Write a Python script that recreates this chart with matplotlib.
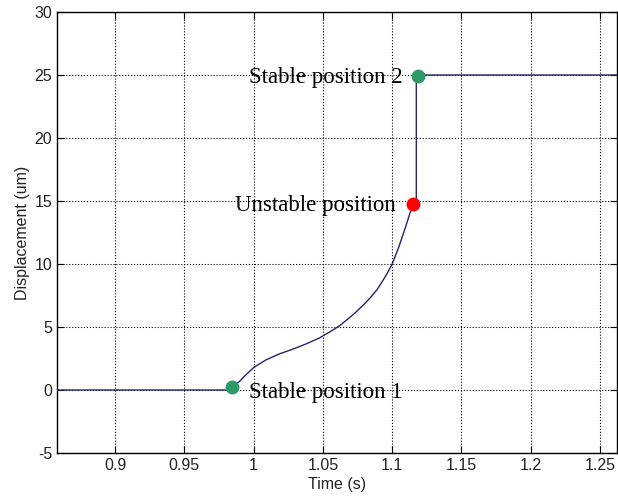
import matplotlib
matplotlib.use("Agg")
import matplotlib.pyplot as plt

plt.rcParams["axes.unicode_minus"] = False

# curve
time_s = [0.858, 0.983, 0.9855, 0.9896, 0.9942, 1.0002, 1.0087, 1.0184,
          1.0280, 1.0377, 1.0473, 1.0555, 1.0620, 1.0672, 1.0730, 1.0792,
          1.0840, 1.0889, 1.0925, 1.0961, 1.0998, 1.1046, 1.1094, 1.1130,
          1.1150, 1.1165, 1.1174, 1.1174, 1.262]
disp_um = [0.0, 0.0, 0.35, 0.66, 1.19, 1.80, 2.38, 2.86,
           3.23, 3.65, 4.12, 4.65, 5.10, 5.56, 6.10, 6.75,
           7.30, 7.94, 8.55, 9.20, 9.95, 11.3, 12.85, 14.1,
           14.6, 14.9, 15.2, 25.0, 25.0]

# marked positions
pt_names = ["Stable position 1", "Unstable position", "Stable position 2"]
pt_time = [0.984, 1.1148, 1.1186]
pt_disp = [0.25, 14.8, 24.9]
pt_colors = ["#2e9a68", "#ff0000", "#2e9a68"]

xticks = [0.9, 0.95, 1.0, 1.05, 1.1, 1.15, 1.2, 1.25]
xtick_labels = ["0.9", "0.95", "1", "1.05", "1.1", "1.15", "1.2", "1.25"]
yticks = [-5, 0, 5, 10, 15, 20, 25, 30]

fig = plt.figure(figsize=(6.18, 5.03), dpi=100)
ax = fig.add_axes([57 / 618, 50 / 503, 560 / 618, 441 / 503])

ax.plot(time_s, disp_um, color="#23236e", linewidth=1.0, zorder=3)

for t, d, c in zip(pt_time, pt_disp, pt_colors):
    ax.plot(t, d, "o", color=c, markersize=10, markeredgewidth=0, zorder=4)

serif = dict(family="Liberation Serif", fontsize=16.5, color="black")
ax.annotate(pt_names[0], (pt_time[0], pt_disp[0]), xytext=(17, -6),
            textcoords="offset pixels", ha="left", va="center", **serif)
ax.annotate(pt_names[1], (pt_time[1], pt_disp[1]), xytext=(-17, -2),
            textcoords="offset pixels", ha="right", va="center", **serif)
ax.annotate(pt_names[2], (pt_time[2], pt_disp[2]), xytext=(-15, -1),
            textcoords="offset pixels", ha="right", va="center", **serif)

ax.set_xlim(0.858, 1.2623)
ax.set_ylim(-5, 30)
ax.set_xticks(xticks)
ax.set_xticklabels(xtick_labels)
ax.set_yticks(yticks)

ax.grid(True, color="black", linestyle=":", linewidth=0.8)
ax.tick_params(direction="in", length=5, top=True, right=True,
               labelsize=11.5, labelcolor="#222222")
for lab in ax.get_xticklabels() + ax.get_yticklabels():
    lab.set_family("Liberation Sans")
for s in ax.spines.values():
    s.set_linewidth(1.0)

ax.set_xlabel("Time (s)", family="Liberation Sans", fontsize=11.5,
              color="#222222", labelpad=3)
ax.set_ylabel("Displacement (um)", family="Liberation Sans", fontsize=11.5,
              color="#222222", labelpad=3)

fig.savefig("out.png", dpi=100)
